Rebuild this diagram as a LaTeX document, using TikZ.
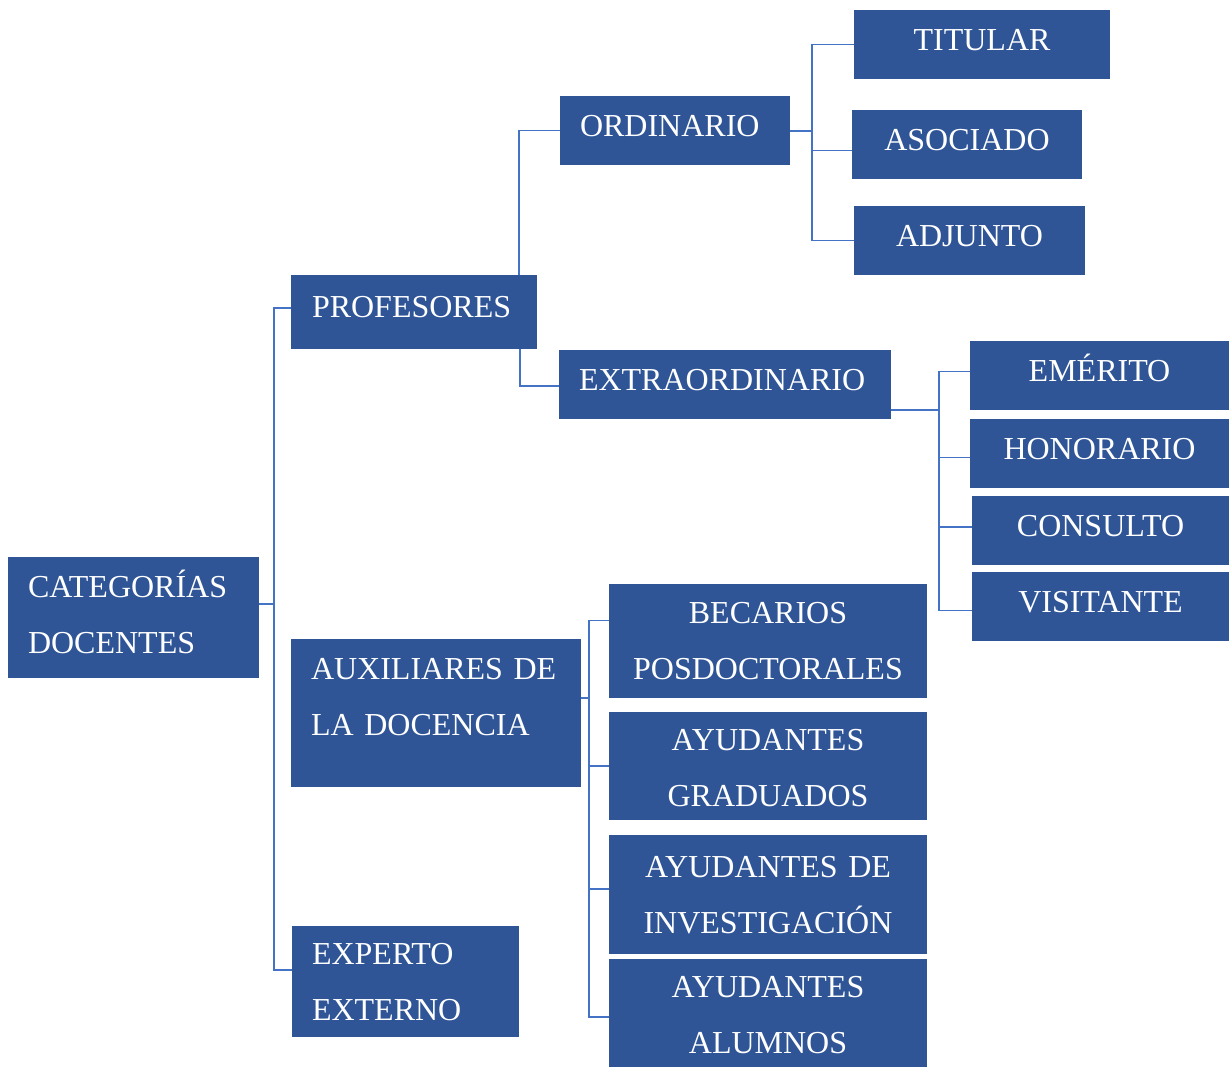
\documentclass[tikz,border=0pt]{standalone}
\usepackage{fontspec}
\setmainfont{Liberation Serif}
\definecolor{boxblue}{RGB}{47,85,151}
\definecolor{lineblue}{RGB}{68,114,196}

\begin{document}
\begin{tikzpicture}[
                x = 0.5pt, y = -0.5pt,
                box/.style = {fill = boxblue, text = white, inner sep = 0pt, outer sep = 0pt,
                              font = \fontsize{16}{28}\selectfont},
                lbox/.style = {box, align = left},
                cbox/.style = {box, align = center},
                leaf/.style = {text height = 10.5pt, text depth = 4.5pt},
                pair/.style = {text height = 10.5pt, text depth = 28pt},
                link/.style = {draw = lineblue, line width = 0.8pt},
            ]
            \useasboundingbox (0,0) rectangle (1229,1068);

            \node (cat) [lbox, pair, text depth = 31pt, minimum width = 125.5pt, minimum height = 60.5pt, text width = 105.5pt] at (133.5,617.5) {CATEGORÍAS\\DOCENTES};

            \node (prof) [lbox, leaf, minimum width = 123pt, minimum height = 37pt, text width = 102pt] at (414,312) {PROFESORES};
            \node (aux) [lbox, pair, text depth = 44pt, minimum width = 145pt, minimum height = 74pt, text width = 125pt] at (436,713) {AUXILIARES~DE\\LA DOCENCIA};
            \node (exp) [lbox, pair, minimum width = 113.5pt, minimum height = 55.5pt, text width = 93.5pt] at (405.5,981.5) {EXPERTO\\EXTERNO};

            \node (ord) [lbox, leaf, minimum width = 115pt, minimum height = 34.5pt, text width = 95pt] at (675,130.5) {ORDINARIO};
            \node (ext) [lbox, leaf, minimum width = 166pt, minimum height = 34.5pt, text width = 146pt] at (725,384.5) {EXTRAORDINARIO};

            \node (tit) [cbox, leaf, minimum width = 128pt, minimum height = 34.5pt, text width = 118pt] at (982,44.5) {TITULAR};
            \node (aso) [cbox, leaf, minimum width = 115pt, minimum height = 34.5pt, text width = 105pt] at (967,144.5) {ASOCIADO};
            \node (adj) [cbox, leaf, minimum width = 115.5pt, minimum height = 34.5pt, text width = 105pt] at (969.5,240.5) {ADJUNTO};

            \node (eme) [cbox, leaf, minimum width = 129.5pt, minimum height = 34.5pt, text width = 119pt] at (1099.5,375.5) {EMÉRITO};
            \node (hon) [cbox, leaf, minimum width = 129.5pt, minimum height = 34.5pt, text width = 119pt] at (1099.5,453.5) {HONORARIO};
            \node (con) [cbox, leaf, minimum width = 128.5pt, minimum height = 34.5pt, text width = 118pt] at (1100.5,530.5) {CONSULTO};
            \node (vis) [cbox, leaf, minimum width = 128.5pt, minimum height = 34.5pt, text width = 118pt] at (1100.5,606.5) {VISITANTE};

            \node (bec) [cbox, pair, minimum width = 159pt, minimum height = 57pt, text width = 149pt] at (768,641) {BECARIOS\\POSDOCTORALES};
            \node (gra) [cbox, pair, text depth = 26pt, minimum width = 159pt, minimum height = 54pt, text width = 149pt] at (768,766) {AYUDANTES\\GRADUADOS};
            \node (inv) [cbox, pair, minimum width = 159pt, minimum height = 59.5pt, text width = 149pt] at (768,894.5) {AYUDANTES DE\\INVESTIGACIÓN};
            \node (alu) [cbox, pair, text depth = 26pt, minimum width = 159pt, minimum height = 54pt, text width = 149pt] at (768,1013) {AYUDANTES\\ALUMNOS};

            \coordinate (trunk) at (274,604);
            \coordinate (jord) at (812,131);
            \coordinate (jext) at (939,410);
            \coordinate (jaux) at (589,698);

            \path[link] (trunk -| cat.east) -- (trunk);
            \path[link] (trunk) |- ([yshift=2pt]prof.west);
            \path[link] (trunk) |- ([yshift=5.75pt]exp.west);

            \path[link] ([xshift=-9pt]prof.north east) |- (ord.west);
            \path[link] ([xshift=-8.5pt]prof.south east) |- ([yshift=-0.75pt]ext.west);

            \path[link] (jord -| ord.east) -- (jord);
            \path[link] (jord) |- (tit.west);
            \path[link] (jord) |- ([yshift=-3pt]aso.west);
            \path[link] (jord) |- (adj.west);

            \path[link] (jext -| ext.east) -- (jext);
            \path[link] (jext) |- ([yshift=2pt]eme.west);
            \path[link] (jext) |- ([yshift=-2pt]hon.west);
            \path[link] (jext) |- ([yshift=1.75pt]con.west);
            \path[link] (jext) |- ([yshift=-2pt]vis.west);

            \path[link] (jaux -| aux.east) -- (jaux);
            \path[link] (jaux) |- ([yshift=10.25pt]bec.west);
            \path[link] (jaux) |- (gra.west);
            \path[link] (jaux) |- ([yshift=2.75pt]inv.west);
            \path[link] (jaux) |- ([yshift=-2pt]alu.west);
        \end{tikzpicture}
\end{document}
